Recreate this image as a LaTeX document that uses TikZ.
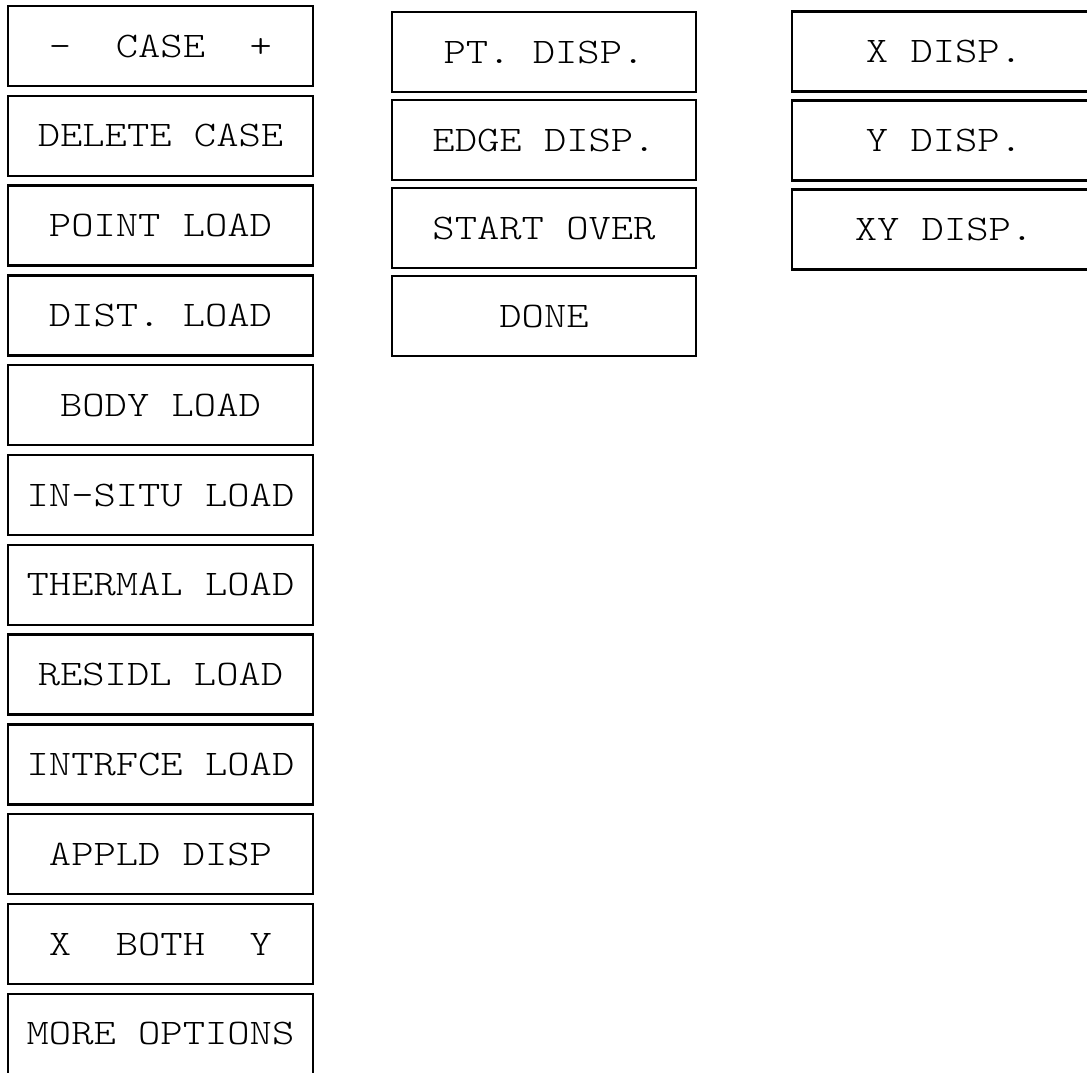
\documentclass[tikz,border=0pt]{standalone}
\usepackage{fontspec}
\newfontfamily\btnfont{lmmonolt10-regular.otf}[FakeStretch=1.18]
\usepackage{tikz}
\usetikzlibrary{positioning}
\tikzstyle{button} = [rectangle, minimum width=305pt, minimum height=80pt, inner sep=2pt, text centered, draw=black, line width=2.5pt, font=\btnfont\fontsize{36pt}{40pt}\selectfont]
\tikzstyle{button2} = [button, minimum width=304pt]

\begin{document}
\begin{tikzpicture}[x=1pt, y=-1pt, node distance=7.3pt]
\useasboundingbox (0,0) rectangle (1087,1072);
\clip (0,0) rectangle (1087,1072);
% first column
\node (case) [button] at (160.5,46) {-~~CASE~~+};
\node (delcase) [button, below=of case] {DELETE CASE};
\node (ptload) [button, below=of delcase] {POINT LOAD};
\node (distload) [button, below=of ptload] {DIST. LOAD};
\node (bodyload) [button, below=of distload] {BODY LOAD};
\node (situload) [button, below=of bodyload] {IN-SITU LOAD};
\node (thermload) [button, below=of situload] {THERMAL LOAD};
\node (resload) [button, below=of thermload] {RESIDL LOAD};
\node (intload) [button, below=of resload] {INTRFCE LOAD};
\node (appdisp) [button, below=of intload] {APPLD DISP};
\node (xboth) [button, below=of appdisp] {X~~BOTH~~Y};
\node (more) [button, below=of xboth] {MORE OPTIONS};
% second column
\node (ptdisp) [button2] at (544,52) {PT. DISP.};
\node (edgedisp) [button2, below=5.5pt of ptdisp] {EDGE DISP.};
\node (restart) [button2, below=5.5pt of edgedisp] {START OVER};
\node (done) [button2, below=5.5pt of restart] {DONE};
% third column
\node (xdisp) [button2] at (944,51.5) {X DISP.};
\node (ydisp) [button2, below=6.5pt of xdisp] {Y DISP.};
\node (xydisp) [button2, below=6.5pt of ydisp] {XY DISP.};
\end{tikzpicture}
\end{document}
